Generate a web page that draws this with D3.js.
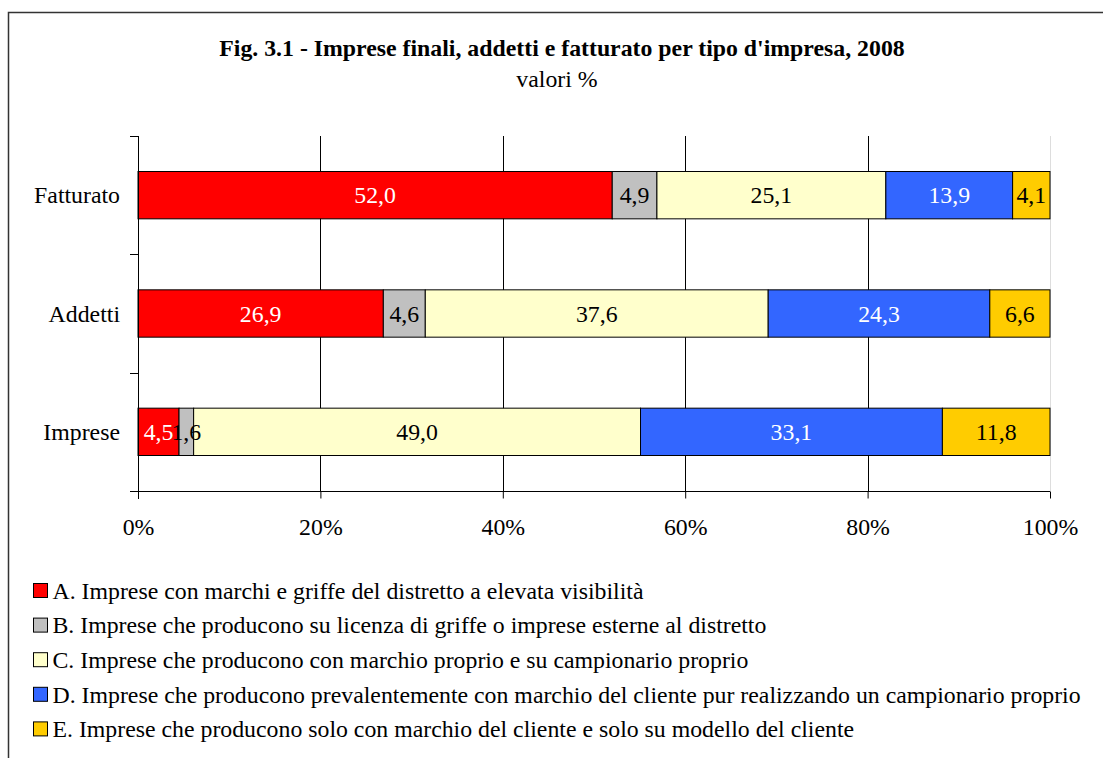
<!DOCTYPE html>
<html>
<head>
<meta charset="utf-8">
<script src="https://cdn.jsdelivr.net/npm/d3@7"></script>
<style>
  body { margin: 0; background: #fff; }
  svg text { font-family: 'Liberation Serif', 'Times New Roman', serif; }
</style>
</head>
<body>
<div id="chart"></div>
<script>
const categories = ['Fatturato', 'Addetti', 'Imprese']
const seriesKeys = ['A', 'B', 'C', 'D', 'E']
const seriesLabels = [
  'A. Imprese con marchi e griffe del distretto a elevata visibilità',
  'B. Imprese che producono su licenza di griffe o imprese esterne al distretto',
  'C. Imprese che producono con marchio proprio e su campionario proprio',
  'D. Imprese che producono prevalentemente con marchio del cliente pur realizzando un campionario proprio',
  'E. Imprese che producono solo con marchio del cliente e solo su modello del cliente'
]
const fatturato = [52.0, 4.9, 25.1, 13.9, 4.1]
const addetti = [26.9, 4.6, 37.6, 24.3, 6.6]
const imprese = [4.5, 1.6, 49.0, 33.1, 11.8]
const xTicks = [0, 20, 40, 60, 80, 100]

const colors = ['#ff0000', '#c0c0c0', '#ffffcc', '#3366ff', '#ffcc00']
const textColors = ['#fff', '#000', '#000', '#fff', '#000']

const W = 1103, H = 758
const M = { top: 136, left: 138, right: 53, bottom: 267 }
const FS = 23.8

const rows = [fatturato, addetti, imprese].map((vals, i) => {
  let o = { cat: categories[i] }
  seriesKeys.forEach((k, j) => o[k] = vals[j])
  return o
})
const stacked = d3.stack().keys(seriesKeys)(rows)

const svg = d3.select('#chart').append('svg')
  .attr('width', W).attr('height', H)

// frame
svg.append('path')
  .attr('d', 'M8.5,' + H + 'V12.5H' + W)
  .attr('fill', 'none').attr('stroke', '#333').attr('stroke-width', 1.5)

svg.append('text')
  .attr('x', 562).attr('y', 56)
  .attr('text-anchor', 'middle')
  .attr('font-size', 23.8).attr('font-weight', 'bold')
  .text("Fig. 3.1 - Imprese finali, addetti e fatturato per tipo d'impresa, 2008")

svg.append('text')
  .attr('x', 557).attr('y', 87)
  .attr('text-anchor', 'middle')
  .attr('font-size', FS)
  .text('valori %')

const x = d3.scaleLinear().domain([0, 100]).range([M.left, W - M.right])
const y = d3.scaleBand().domain(categories).range([M.top, H - M.bottom]).paddingInner(0.6).paddingOuter(0.3)
const yOuter = d3.scaleBand().domain(categories).range([M.top, H - M.bottom])
const y0 = M.top, y1 = H - M.bottom

// gridlines
svg.append('g')
  .selectAll('line')
  .data(xTicks.filter(d => d > 0))
  .join('line')
    .attr('x1', d => Math.round(x(d)) + 0.5).attr('x2', d => Math.round(x(d)) + 0.5)
    .attr('y1', y0).attr('y2', y1)
    .attr('stroke', d => d === 100 ? '#ddd' : '#000').attr('stroke-width', 1)

// bars
const layer = svg.append('g')
  .selectAll('g')
  .data(stacked)
  .join('g')
    .attr('fill', (d, i) => colors[i])

layer.selectAll('rect')
  .data(d => d)
  .join('rect')
    .attr('x', d => x(d[0]))
    .attr('y', d => y(d.data.cat))
    .attr('width', d => x(d[1]) - x(d[0]))
    .attr('height', y.bandwidth())
    .attr('stroke', '#000').attr('stroke-width', 1)

// bar labels
const fmt = v => d3.format('.1f')(v).replace('.', ',')
stacked.forEach((s, i) => {
  svg.append('g')
    .selectAll('text')
    .data(s)
    .join('text')
      .attr('x', d => (x(d[0]) + x(d[1])) / 2)
      .attr('y', d => y(d.data.cat) + y.bandwidth() / 2)
      .attr('dy', '0.35em')
      .attr('text-anchor', 'middle')
      .attr('font-size', FS)
      .attr('fill', textColors[i])
      .text(d => fmt(d[1] - d[0]))
})

// y axis
const yAxis = svg.append('g')
yAxis.append('line')
  .attr('x1', M.left + 0.5).attr('x2', M.left + 0.5)
  .attr('y1', y0).attr('y2', y1 + 8)
  .attr('stroke', '#000')
yAxis.selectAll('.tick')
  .data(categories.map(c => yOuter(c)).concat([y1]))
  .join('line')
    .attr('x1', M.left - 8).attr('x2', M.left)
    .attr('y1', d => Math.round(d) + 0.5).attr('y2', d => Math.round(d) + 0.5)
    .attr('stroke', '#000')
yAxis.selectAll('text')
  .data(categories)
  .join('text')
    .attr('x', M.left - 18)
    .attr('y', d => y(d) + y.bandwidth() / 2)
    .attr('dy', '0.35em')
    .attr('text-anchor', 'end')
    .attr('font-size', FS)
    .text(d => d)

// x axis
const xAxis = svg.append('g')
  .attr('transform', 'translate(0,' + (y1 + 0.5) + ')')
  .call(d3.axisBottom(x).tickValues(xTicks).tickSize(7).tickPadding(20).tickFormat(d => d + '%'))
xAxis.select('.domain').attr('d', 'M' + (M.left - 8) + ',0H' + x(100))
xAxis.selectAll('text').attr('font-size', FS)

// legend
const legend = svg.append('g')
  .selectAll('g')
  .data(seriesLabels)
  .join('g')
    .attr('transform', (d, i) => 'translate(33.5,' + (583.5 + i * 34.6) + ')')
legend.append('rect')
  .attr('width', 14).attr('height', 14)
  .attr('fill', (d, i) => colors[i])
  .attr('stroke', '#000').attr('stroke-width', 1)
legend.append('text')
  .attr('x', 19).attr('y', 7)
  .attr('dy', '0.35em')
  .attr('font-size', FS)
  .text(d => d)
</script>
</body>
</html>
